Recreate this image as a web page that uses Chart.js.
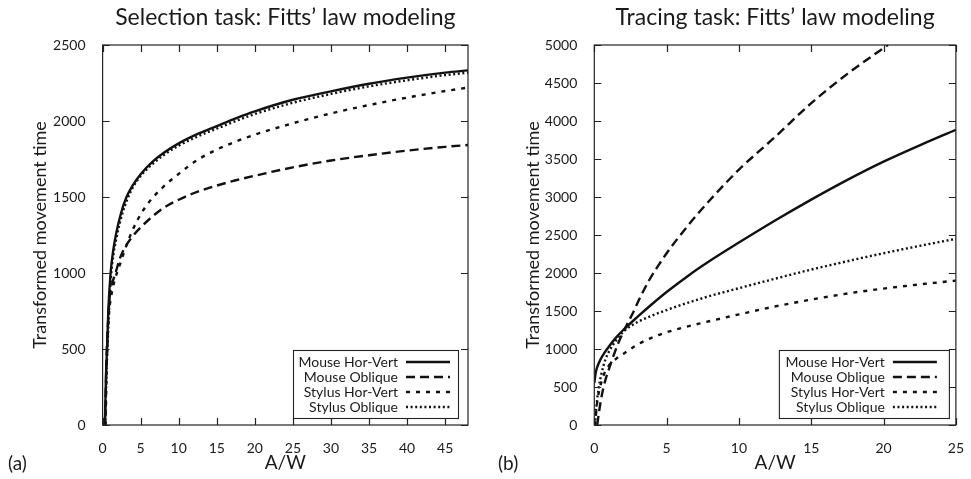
<!DOCTYPE html>
<html>
<head>
<meta charset="utf-8">
<script src="https://cdn.jsdelivr.net/npm/chart.js@4.4.1/dist/chart.umd.min.js"></script>
<style>
  html, body { margin: 0; padding: 0; background: #fff; }
  #wrap { position: relative; width: 971px; height: 479px; overflow: hidden; }
  canvas { position: absolute; top: 0; }
  .tag { position: absolute; top: 451px; font: 19px Lato, sans-serif; line-height: 24px; color: #1a1a1a; }
</style>
</head>
<body>
<div id="wrap">
  <canvas id="selChart" width="485" height="479" style="left:0"></canvas>
  <canvas id="trcChart" width="486" height="479" style="left:485px"></canvas>
  <div class="tag" style="left:8px">(a)</div>
  <div class="tag" style="left:498px">(b)</div>
</div>
<script>
// series names (same in both panels)
const seriesNames = ["Mouse Hor-Vert", "Mouse Oblique", "Stylus Hor-Vert", "Stylus Oblique"];

// --- (a) selection task, A/W vs transformed movement time
const selTicksX = [0, 5, 10, 15, 20, 25, 30, 35, 40, 45];
const selTicksY = [0, 500, 1000, 1500, 2000, 2500];

const selMouseHV_x = [0.3, 0.45, 0.6, 0.75, 1.05, 1.4, 1.8, 2.4, 3.1, 4, 5, 6.5, 8, 10, 12.5, 15, 17.5, 20, 25, 30, 35, 40, 45, 48];
const selMouseHV_y = [0, 330, 520, 750, 1000, 1150, 1265, 1390, 1495, 1580, 1650, 1730, 1790, 1853, 1915, 1967, 2018, 2064, 2140, 2195, 2245, 2285, 2318, 2333];

const selMouseOb_x = [0.3, 0.45, 0.55, 0.7, 0.9, 1.2, 1.7, 2.3, 3.2, 4, 5, 6.5, 8, 10, 12.5, 15, 17.5, 20, 25, 30, 35, 40, 45, 48];
const selMouseOb_y = [0, 300, 500, 660, 830, 920, 1000, 1100, 1190, 1245, 1300, 1370, 1428, 1482, 1535, 1575, 1610, 1640, 1695, 1740, 1775, 1805, 1830, 1842];

const selStylusHV_x = [0.4, 0.5, 0.65, 0.85, 1.1, 1.6, 2.2, 2.7, 3.5, 4.6, 6, 8, 10, 12.5, 15, 17.5, 20, 25, 30, 35, 40, 45, 48];
const selStylusHV_y = [0, 300, 560, 740, 840, 955, 1045, 1120, 1230, 1350, 1460, 1568, 1652, 1745, 1812, 1865, 1910, 1985, 2050, 2105, 2154, 2197, 2220];

const selStylusOb_x = [0.35, 0.5, 0.65, 0.85, 1.1, 1.45, 1.9, 2.5, 3.2, 4, 5, 6.5, 8, 10, 12.5, 15, 17.5, 20, 25, 30, 35, 40, 45, 48];
const selStylusOb_y = [0, 330, 520, 760, 980, 1130, 1250, 1375, 1480, 1565, 1638, 1715, 1775, 1838, 1898, 1950, 2000, 2046, 2120, 2178, 2228, 2268, 2302, 2318];

// --- (b) tracing task
const trcTicksX = [0, 5, 10, 15, 20, 25];
const trcTicksY = [0, 500, 1000, 1500, 2000, 2500, 3000, 3500, 4000, 4500, 5000];

const trcMouseHV_x = [0, 0.1, 0.3, 0.6, 1, 1.5, 2, 3, 4, 5, 6.5, 8, 10, 12.5, 15, 17.5, 20, 22.5, 25];
const trcMouseHV_y = [550, 690, 810, 920, 1030, 1150, 1250, 1425, 1592, 1750, 1965, 2160, 2400, 2690, 2965, 3225, 3465, 3680, 3885];

const trcMouseOb_x = [0.2, 0.35, 0.5, 0.75, 1.07, 1.4, 1.75, 2.2, 2.66, 3.2, 3.8, 4.4, 5, 6.5, 8, 10, 12.5, 15, 17.5, 20.3];
const trcMouseOb_y = [0, 200, 373, 580, 768, 950, 1119, 1300, 1470, 1690, 1908, 2090, 2260, 2630, 2960, 3360, 3790, 4235, 4620, 5000];

const trcStylusHV_x = [0.05, 0.2, 0.4, 0.7, 1, 1.5, 2, 3, 4, 5, 6, 7.5, 10, 12.5, 15, 17.5, 20, 22.5, 25];
const trcStylusHV_y = [0, 300, 500, 680, 780, 870, 935, 1060, 1150, 1220, 1275, 1345, 1455, 1560, 1650, 1730, 1795, 1850, 1900];

const trcStylusOb_x = [0.05, 0.15, 0.3, 0.5, 0.75, 1, 1.5, 2, 3, 4, 5, 7.5, 10, 12.5, 15, 17.5, 20, 22.5, 25];
const trcStylusOb_y = [0, 250, 480, 680, 850, 960, 1110, 1225, 1355, 1440, 1513, 1670, 1800, 1925, 2045, 2155, 2260, 2357, 2450];

const FONT = "Lato, 'Open Sans', sans-serif";
const INK = "#111";
// line styles per series: solid, long dash, short dash, dotted
const dashes = [[], [9, 5], [4, 6], [2, 2.6]];

function pts(xs, ys) {
  return xs.map((v, i) => ({ x: v, y: ys[i] }));
}

function makeSets(list) {
  return list.map((d, i) => ({
    label: seriesNames[i],
    data: pts(d[0], d[1]),
    borderColor: INK,
    borderWidth: 2.4,
    borderDash: dashes[i],
    pointRadius: 0,
    fill: false,
    cubicInterpolationMode: "monotone"
  }));
}

// box, inward ticks on all four sides, and the boxed legend in the corner
const gnuFrame = {
  id: "gnuFrame",
  afterDatasetsDraw(chart) {
    const { ctx, chartArea: a, scales } = chart;
    const sx = scales.x, sy = scales.y;
    const tl = 7;
    ctx.save();
    ctx.setLineDash([]);
    ctx.strokeStyle = "#222";
    ctx.lineWidth = 1.2;
    ctx.beginPath();
    sx.ticks.forEach(t => {
      const p = Math.round(sx.getPixelForValue(t.value)) + 0.5;
      ctx.moveTo(p, a.bottom); ctx.lineTo(p, a.bottom - tl);
      ctx.moveTo(p, a.top); ctx.lineTo(p, a.top + tl);
    });
    sy.ticks.forEach(t => {
      const p = Math.round(sy.getPixelForValue(t.value)) + 0.5;
      ctx.moveTo(a.left, p); ctx.lineTo(a.left + tl, p);
      ctx.moveTo(a.right, p); ctx.lineTo(a.right - tl, p);
    });
    ctx.stroke();
    ctx.strokeRect(a.left, a.top, a.right - a.left, a.bottom - a.top);

    // legend box
    const o = chart.options.plugins.gnuFrame;
    const sets = chart.data.datasets;
    const w = o.width, rowH = 15;
    const h = sets.length * rowH + 8;
    const x1 = a.right - o.gapRight - w;
    const y1 = a.bottom - o.gapBottom - h;
    ctx.fillStyle = "#fff";
    ctx.fillRect(x1, y1, w, h);
    ctx.lineWidth = 1.1;
    ctx.strokeRect(x1 + 0.5, y1 + 0.5, w, h);
    ctx.font = "14px " + FONT;
    ctx.textAlign = "right";
    ctx.textBaseline = "middle";
    sets.forEach((ds, i) => {
      const cy = y1 + 12 + i * rowH;
      ctx.fillStyle = "#1a1a1a";
      ctx.fillText(ds.label, x1 + o.textRight, cy);
      ctx.strokeStyle = INK;
      ctx.lineWidth = ds.borderWidth;
      ctx.setLineDash(ds.borderDash);
      ctx.beginPath();
      ctx.moveTo(x1 + o.textRight + 8, cy);
      ctx.lineTo(x1 + o.textRight + 52, cy);
      ctx.stroke();
    });
    ctx.restore();
  }
};

function makeChart(id, title, sets, xMax, yMax, xTicks, yTicks, yWidth, yTitlePad, padRight, legendOpts) {
  return new Chart(document.getElementById(id), {
    type: "line",
    data: { datasets: sets },
    options: {
      responsive: false,
      animation: false,
      layout: { padding: { left: 0, right: padRight, top: 0, bottom: 0 } },
      plugins: {
        legend: { display: false },
        tooltip: { enabled: false },
        title: {
          display: true,
          text: title,
          fullSize: false,
          color: "#1a1a1a",
          font: { family: FONT, size: 23, weight: "normal", lineHeight: 1.2 },
          padding: { top: 4, bottom: 13.4 }
        },
        gnuFrame: legendOpts
      },
      scales: {
        x: {
          type: "linear",
          min: 0,
          max: xMax,
          afterBuildTicks: s => { s.ticks = xTicks.map(v => ({ value: v })); },
          afterFit: s => { s.height = 54; },
          grid: { display: false },
          border: { display: false },
          ticks: { color: "#1a1a1a", padding: 7, font: { family: FONT, size: 14 }, callback: v => String(v) },
          title: {
            display: true, text: "A/W", color: "#1a1a1a",
            font: { family: FONT, size: 19, lineHeight: 1.2 },
            padding: { top: 0, bottom: 4.6 }
          }
        },
        y: {
          min: 0,
          max: yMax,
          afterBuildTicks: s => { s.ticks = yTicks.map(v => ({ value: v })); },
          afterFit: s => { s.width = yWidth; },
          grid: { display: false },
          border: { display: false },
          ticks: { color: "#1a1a1a", padding: 9, font: { family: FONT, size: 14 }, callback: v => String(v) },
          title: {
            display: true, text: "Transformed movement time", color: "#1a1a1a",
            font: { family: FONT, size: 18, lineHeight: 1.2 },
            padding: { top: yTitlePad, bottom: 0 }
          }
        }
      }
    },
    plugins: [gnuFrame]
  });
}

makeChart("selChart", "Selection task: Fitts’ law modeling",
  makeSets([
    [selMouseHV_x, selMouseHV_y],
    [selMouseOb_x, selMouseOb_y],
    [selStylusHV_x, selStylusHV_y],
    [selStylusOb_x, selStylusOb_y]
  ]),
  48, 2500, selTicksX, selTicksY, 102.6, 29, 17,
  { width: 165, gapRight: 10, gapBottom: 7, textRight: 105 });

makeChart("trcChart", "Tracing task: Fitts’ law modeling",
  makeSets([
    [trcMouseHV_x, trcMouseHV_y],
    [trcMouseOb_x, trcMouseOb_y],
    [trcStylusHV_x, trcStylusHV_y],
    [trcStylusOb_x, trcStylusOb_y]
  ]),
  25, 5000, trcTicksX, trcTicksY, 109.3, 37, 11,
  { width: 170, gapRight: 7, gapBottom: 7, textRight: 106 });
</script>
</body>
</html>
